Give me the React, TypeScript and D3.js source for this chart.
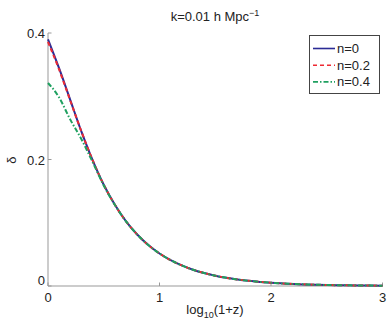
import React from "react";
import * as d3 from "d3";

const xValues = [0, 0.1, 0.2, 0.3, 0.4, 0.5, 0.6, 0.7, 0.8, 0.9, 1.0, 1.1, 1.2, 1.3, 1.4, 1.5, 1.6, 1.7, 1.8, 1.9, 2.0, 2.2, 2.4, 2.6, 2.8, 3.0];
const deltaN0 = [0.390, 0.344, 0.294, 0.244, 0.199, 0.160, 0.1283, 0.1022, 0.0814, 0.0647, 0.0514, 0.0409, 0.0325, 0.0258, 0.0205, 0.0163, 0.0129, 0.0103, 0.0082, 0.0065, 0.0051, 0.0032, 0.0020, 0.0013, 0.0008, 0.0005];
const deltaN02 = [0.386, 0.342, 0.293, 0.244, 0.199, 0.160, 0.1283, 0.1022, 0.0814, 0.0647, 0.0514, 0.0409, 0.0325, 0.0258, 0.0205, 0.0163, 0.0129, 0.0103, 0.0082, 0.0065, 0.0051, 0.0032, 0.0020, 0.0013, 0.0008, 0.0005];
const deltaN04 = [0.321, 0.298, 0.263, 0.232, 0.196, 0.159, 0.1280, 0.1021, 0.0814, 0.0647, 0.0514, 0.0409, 0.0325, 0.0258, 0.0205, 0.0163, 0.0129, 0.0103, 0.0082, 0.0065, 0.0051, 0.0032, 0.0020, 0.0013, 0.0008, 0.0005];
const seriesLabels = ["n=0", "n=0.2", "n=0.4"];
const xTicks = [0, 1, 2, 3];
const yTicks = [0, 0.2, 0.4];

const colors = ["#2b2b95", "#ee2a33", "#1fa060"];
const dashes = ["none", "4,3", "5,2,1.5,2"];
const font = "'Liberation Sans', Arial, Helvetica, sans-serif";

export default function App() {
  const x = d3.scaleLinear().domain([0, 3]).range([48, 382.5]);
  const y = d3.scaleLinear().domain([0, 0.4]).range([286, 33]);
  const series = [deltaN0, deltaN02, deltaN04];
  const line = d3
    .line<number>()
    .x((_, i) => x(xValues[i]))
    .y((d) => y(d))
    .curve(d3.curveMonotoneX);
  const axisColor = "#999";

  return (
    <svg
      width={389}
      height={327}
      style={{ position: "absolute", left: 0, top: 0, background: "#fff" }}
      fontFamily={font}
    >
      <rect width={389} height={327} fill="#fff" />
      {/* axes */}
      <line x1={x(0)} x2={x(3)} y1={y(0)} y2={y(0)} stroke={axisColor} strokeWidth={1} />
      <line x1={x(0)} x2={x(0)} y1={y(0)} y2={y(0.4)} stroke={axisColor} strokeWidth={1} />
      {xTicks.map((t) => (
        <g key={"xt" + t}>
          <line x1={x(t)} x2={x(t)} y1={y(0)} y2={y(0) - 3.5} stroke={axisColor} />
          <text x={x(t)} y={y(0) + 16} textAnchor="middle" fontSize={13} fill="#222">
            {t}
          </text>
        </g>
      ))}
      {yTicks.map((t) => (
        <g key={"yt" + t}>
          <line x1={x(0)} x2={x(0) + 3.5} y1={y(t)} y2={y(t)} stroke={axisColor} />
          <text
            x={x(0) - 3}
            y={t === 0 ? y(t) - 1 : y(t) + 5}
            textAnchor="end"
            fontSize={13}
            fill="#222"
          >
            {t === 0 ? "0" : String(t)}
          </text>
        </g>
      ))}
      {/* curves */}
      {series.map((s, i) => (
        <path
          key={"s" + i}
          d={line(s) || ""}
          fill="none"
          stroke={colors[i]}
          strokeWidth={2}
          strokeDasharray={dashes[i]}
        />
      ))}
      {/* title */}
      <text x={215} y={21} textAnchor="middle" fontSize={13} fill="#222">
        k=0.01 h Mpc
        <tspan dy={-5} fontSize={9}>−1</tspan>
      </text>
      {/* x label */}
      <text x={215} y={314} textAnchor="middle" fontSize={13} fill="#222">
        log
        <tspan dy={4} fontSize={9}>10</tspan>
        <tspan dy={-4}>(1+z)</tspan>
      </text>
      {/* y label */}
      <text
        transform="translate(16,160) rotate(-90)"
        textAnchor="middle"
        fontSize={13}
        fill="#222"
      >
        δ
      </text>
      {/* legend */}
      <rect x={309.5} y={35.5} width={70} height={58} fill="#fff" stroke="#444" strokeWidth={1} />
      {seriesLabels.map((lab, i) => (
        <g key={"lg" + i}>
          <line
            x1={313}
            x2={335}
            y1={48.5 + i * 16.7}
            y2={48.5 + i * 16.7}
            stroke={colors[i]}
            strokeWidth={1.6}
            strokeDasharray={dashes[i]}
          />
          <text x={337} y={53 + i * 16.7} fontSize={13} fill="#222">
            {lab}
          </text>
        </g>
      ))}
    </svg>
  );
}
